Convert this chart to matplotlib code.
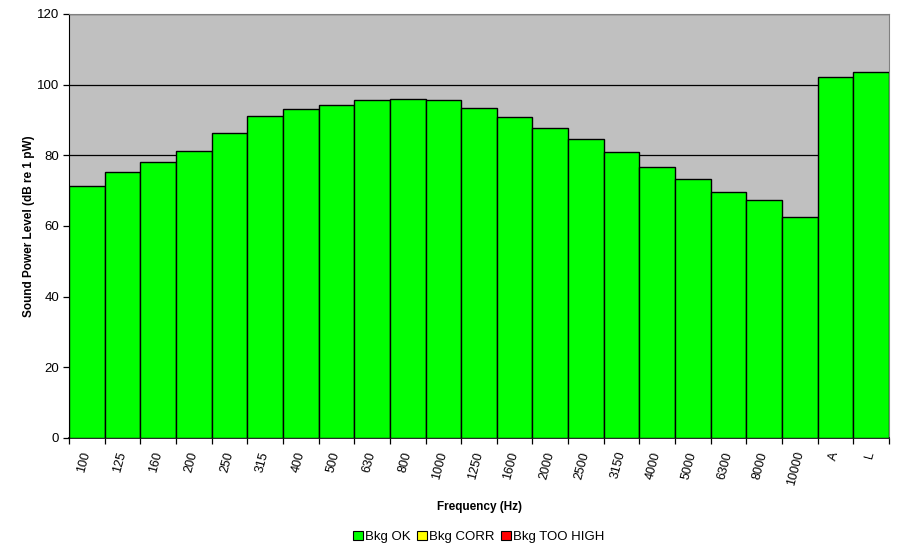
import matplotlib.pyplot as plt
from matplotlib.patches import Patch

plt.rcParams['font.family'] = ['Liberation Sans', 'DejaVu Sans']

bands = ["100", "125", "160", "200", "250", "315", "400", "500", "630", "800",
         "1000", "1250", "1600", "2000", "2500", "3150", "4000", "5000", "6300",
         "8000", "10000", "A", "L"]
level = [71.4, 75.4, 78.2, 81.3, 86.4, 91.2, 93.0, 94.3, 95.6, 95.9,
         95.7, 93.3, 90.9, 87.7, 84.5, 80.9, 76.8, 73.4, 69.7,
         67.3, 62.6, 102.3, 103.5]

legend_names = ["Bkg OK", "Bkg CORR", "Bkg TOO HIGH"]
legend_colors = ["#00FF00", "#FFFF00", "#FF0000"]

fig = plt.figure(figsize=(8.99, 5.52), dpi=100)
ax = fig.add_axes([69 / 899, 1 - 438 / 552, 820 / 899, 424 / 552])
ax.set_facecolor("#C0C0C0")

x = range(len(bands))
ax.bar(x, level, width=1.0, color="#00FF00", edgecolor="black", linewidth=1.0, zorder=3)

ax.set_xlim(-0.5, len(bands) - 0.5)
ax.set_ylim(0, 120)
ax.set_yticks(range(0, 121, 20))
ax.yaxis.grid(True, color="black", linewidth=0.9, zorder=1)
ax.set_axisbelow(True)

# ticks sit between the categories, labels at the centres
ax.set_xticks([i - 0.5 for i in x] + [len(bands) - 0.5])
ax.set_xticklabels([])
ax.set_xticks(list(x), minor=True)
ax.set_xticklabels(bands, minor=True, rotation=75, ha="right", va="center",
                   rotation_mode="anchor", fontsize=9)
ax.tick_params(axis="x", which="minor", length=0, pad=10)
ax.tick_params(axis="x", which="major", length=4, direction="out", width=0.9)
ax.tick_params(axis="y", length=4, direction="out", labelsize=9.5, width=0.9, pad=3)

for s in ["top", "right"]:
    ax.spines[s].set_color("#808080")
for s in ["left", "bottom"]:
    ax.spines[s].set_color("black")
ax.spines["bottom"].set_linewidth(1.2)

ax.set_xlabel("Frequency (Hz)", fontsize=8.5, fontweight="bold", labelpad=10)
ax.set_ylabel("Sound Power Level (dB re 1 pW)", fontsize=8.5, fontweight="bold", labelpad=1.5)

handles = [Patch(facecolor=c, edgecolor="black", linewidth=0.8) for c in legend_colors]
fig.legend(handles, legend_names, loc="center", bbox_to_anchor=(479 / 899, 1 - 537 / 552),
           ncol=3, frameon=False, fontsize=9.5, handlelength=0.7, handleheight=0.7,
           handletextpad=0.2, columnspacing=0.5)

fig.savefig("out.png", dpi=100)
